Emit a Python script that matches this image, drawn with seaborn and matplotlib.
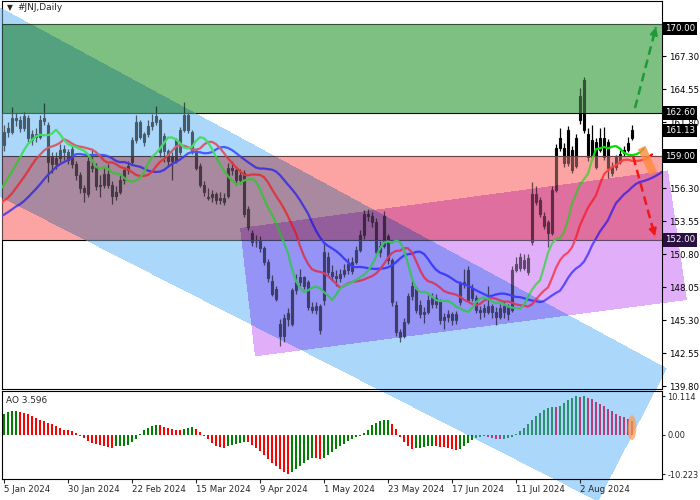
import numpy as np
import matplotlib
matplotlib.use("Agg")
import matplotlib.pyplot as plt
from matplotlib.path import Path
from matplotlib.patches import Ellipse
import matplotlib.transforms as mtransforms
import seaborn as sns

sns.set_style("white")
plt.rcParams['font.family'] = ['DejaVu Sans']

# ---------------- data ----------------
opens = [
    159.9, 161.0, 161.0, 162.2, 162.0, 161.3, 162.2, 160.3, 160.8, 160.6,
    161.9, 161.6, 158.9, 158.3, 158.8, 159.6, 159.3, 159.6, 158.3, 157.4,
    156.3, 155.8, 158.0, 158.2, 156.5, 156.6, 157.5, 156.6, 155.7, 156.0,
    157.0, 157.8, 158.5, 160.3, 161.8, 160.2, 160.8, 161.5, 161.8, 162.0,
    160.7, 159.4, 158.6, 158.6, 159.3, 161.2, 162.4, 161.0, 159.4, 158.2,
    156.6, 155.5, 155.6, 155.8, 155.3, 155.5, 155.7, 158.0, 157.8, 157.0,
    157.6, 154.6, 152.6, 151.8, 151.9, 151.3, 150.2, 148.6, 147.9, 145.0,
    144.0, 145.4, 145.0, 147.8, 148.5, 148.9, 148.5, 146.4, 146.2, 146.5,
    147.0, 150.6, 149.3, 149.0, 148.8, 149.2, 149.5, 149.4, 150.2, 151.2,
    152.4, 154.2, 154.0, 153.5, 151.0, 151.5, 152.3, 150.3, 146.6, 144.3,
    144.0, 145.2, 147.3, 148.0, 146.6, 145.8, 146.0, 146.7, 147.2, 146.9,
    145.3, 145.6, 145.8, 145.3, 146.8, 148.3, 149.5, 148.0, 147.2, 146.2,
    146.0, 146.0, 146.5, 146.0, 145.6, 146.0, 146.5, 146.2, 149.5, 150.6,
    149.7, 149.3, 151.8, 155.8, 155.3, 154.0, 153.5, 152.6, 156.2, 159.7,
    159.7, 158.4, 159.5, 158.2, 162.0, 165.3, 160.8, 158.9, 158.1, 159.5,
    160.5, 160.2, 158.2, 158.1, 158.5, 159.25, 159.5, 160.5]

highs = [
    161.6, 161.8, 163.1, 162.6, 162.3, 162.7, 162.4, 161.2, 161.3, 162.4,
    163.4, 161.8, 159.3, 159.3, 160.0, 159.9, 159.6, 159.9, 158.6, 157.7,
    156.6, 158.9, 159.6, 158.4, 157.4, 158.0, 158.3, 156.9, 156.5, 157.4,
    158.1, 158.6, 160.6, 162.4, 162.0, 161.0, 162.0, 162.5, 163.2, 162.2,
    160.9, 159.6, 159.3, 160.5, 161.4, 163.5, 162.6, 161.2, 159.6, 158.4,
    156.9, 156.3, 156.2, 156.0, 156.0, 155.9, 158.4, 158.6, 158.1, 157.9,
    157.8, 154.8, 152.8, 152.4, 152.3, 151.5, 150.4, 149.1, 148.2, 145.4,
    145.8, 146.3, 148.0, 149.2, 149.6, 149.0, 148.7, 146.8, 146.8, 146.7,
    151.8, 151.0, 149.9, 149.5, 149.6, 150.0, 150.5, 150.6, 151.5, 152.8,
    154.5, 154.6, 154.3, 153.8, 151.9, 154.4, 152.5, 150.5, 146.9, 144.6,
    145.5, 147.6, 148.6, 148.2, 147.0, 146.4, 147.4, 147.6, 147.5, 147.1,
    145.9, 146.2, 146.0, 146.1, 148.6, 149.6, 149.8, 148.3, 147.4, 146.5,
    146.7, 148.2, 146.7, 146.4, 146.7, 146.9, 146.7, 149.8, 150.6, 150.9,
    150.8, 150.8, 156.8, 156.5, 155.6, 154.3, 153.7, 156.5, 160.0, 161.3,
    160.1, 161.5, 159.8, 160.8, 164.7, 165.6, 161.3, 161.6, 160.5, 161.3,
    161.4, 160.4, 158.5, 159.1, 159.5, 159.8, 160.6, 161.6]

lows = [
    159.4, 160.6, 160.8, 161.5, 161.0, 161.1, 160.2, 159.9, 160.2, 160.4,
    161.6, 156.8, 157.6, 157.9, 158.5, 158.7, 158.3, 158.0, 157.0, 155.9,
    155.2, 155.6, 157.7, 156.2, 155.6, 156.3, 156.3, 155.0, 155.3, 155.8,
    156.7, 157.5, 158.3, 160.1, 160.4, 159.8, 160.6, 161.2, 161.6, 158.9,
    158.5, 158.2, 157.0, 158.4, 159.1, 161.0, 160.9, 159.2, 157.8, 156.4,
    155.7, 155.3, 155.2, 155.0, 155.0, 154.9, 155.5, 157.4, 156.6, 156.7,
    153.9, 152.8, 151.5, 151.4, 151.0, 149.9, 148.5, 147.3, 146.9, 143.2,
    143.5, 144.8, 144.8, 147.5, 148.2, 147.9, 146.2, 145.9, 145.8, 144.2,
    146.6, 148.9, 148.6, 148.2, 148.5, 148.9, 149.2, 149.2, 150.0, 151.0,
    152.1, 153.6, 153.1, 150.7, 150.6, 151.3, 150.0, 146.5, 144.0, 143.5,
    143.8, 145.0, 147.0, 145.9, 145.5, 145.1, 145.8, 146.3, 146.3, 145.0,
    144.6, 145.2, 144.9, 145.0, 146.6, 148.0, 146.8, 146.9, 145.9, 145.4,
    145.6, 145.8, 145.5, 144.9, 145.4, 145.5, 145.3, 146.0, 149.3, 149.4,
    149.5, 149.1, 151.6, 154.9, 153.9, 152.9, 151.4, 152.4, 156.0, 159.4,
    158.1, 158.2, 157.6, 158.0, 161.7, 160.9, 158.6, 158.7, 157.9, 159.3,
    158.7, 157.2, 157.3, 157.8, 158.3, 159.0, 159.3, 160.3]

closes = [
    161.0, 161.3, 162.2, 162.0, 161.3, 162.3, 160.5, 160.8, 160.6, 162.0,
    162.2, 158.5, 158.3, 158.8, 159.5, 159.3, 158.7, 158.3, 157.4, 156.3,
    156.0, 158.6, 158.2, 156.5, 156.6, 157.5, 156.6, 155.7, 156.0, 157.0,
    157.8, 158.2, 160.3, 161.8, 160.6, 160.8, 161.5, 161.8, 162.3, 159.3,
    159.4, 158.6, 159.0, 160.3, 161.2, 162.4, 161.2, 159.4, 158.0, 156.6,
    156.0, 155.6, 155.8, 155.3, 155.5, 155.2, 158.0, 157.8, 157.0, 157.4,
    154.2, 153.1, 151.8, 151.8, 151.3, 150.2, 148.8, 147.5, 147.1, 144.0,
    145.5, 145.9, 147.8, 148.5, 148.9, 148.2, 146.4, 146.2, 146.5, 144.5,
    151.0, 149.3, 149.0, 148.8, 149.2, 149.5, 150.0, 150.2, 151.2, 152.4,
    154.2, 154.0, 153.5, 151.0, 151.5, 154.0, 150.3, 146.8, 144.3, 143.9,
    145.2, 147.3, 148.2, 146.2, 145.8, 146.0, 147.0, 147.2, 146.7, 145.3,
    145.6, 145.8, 145.3, 145.8, 148.3, 148.5, 147.0, 147.2, 146.2, 146.0,
    146.3, 146.5, 146.0, 145.6, 146.3, 146.5, 145.8, 149.5, 150.0, 149.7,
    150.3, 150.5, 155.8, 155.2, 154.2, 153.2, 152.6, 156.2, 159.7, 160.5,
    158.4, 161.2, 157.8, 160.5, 164.0, 161.2, 158.9, 160.3, 160.2, 160.5,
    158.9, 158.0, 157.6, 158.9, 159.2, 159.5, 160.1, 161.13]

# median prices of the bars before the visible window (warm-up of the Alligator)
prior_medians = [152.0, 152.5, 153.0, 153.4, 153.2, 153.8, 154.5, 155.0, 155.3, 155.0,
                 154.4, 153.6, 153.8, 154.0, 153.8, 154.8, 154.3, 153.5, 153.2, 153.8,
                 153.8, 155.0, 156.3, 156.9, 157.3, 157.7, 157.2, 158.4, 159.4, 160.0]

ao_values = [
    5.4, 5.9, 6.2, 6.3, 6.0, 5.8, 5.6, 5.0, 4.4, 4.0,
    3.7, 3.2, 2.9, 2.4, 1.8, 1.4, 1.3, 1.1, 0.5, -0.3,
    -0.9, -1.5, -2.0, -2.4, -2.7, -2.9, -3.1, -3.3, -3.0, -2.95,
    -2.9, -2.5, -1.9, -1.0, 0.3, 1.2, 1.9, 2.3, 2.6, 2.5,
    2.2, 1.9, 1.6, 1.4, 1.3, 1.5, 1.8, 2.0, 1.6, 0.9,
    -0.2, -1.0, -2.0, -2.8, -3.2, -3.4, -3.0, -2.6, -2.3, -2.0,
    -1.8, -1.9, -2.6, -3.4, -4.3, -5.3, -6.3, -7.2, -8.1, -9.0,
    -9.7, -10.2, -9.8, -9.0, -8.2, -7.3, -6.5, -5.9, -6.0, -6.4,
    -6.0, -5.2, -4.4, -3.7, -3.0, -2.3, -1.6, -1.1, -0.6, -0.2,
    0.4, 1.4, 2.5, 3.2, 3.6, 3.9, 4.0, 2.8, 1.6, -0.4,
    -1.8, -2.9, -3.6, -3.5, -3.3, -3.1, -2.9, -2.8, -3.0, -3.1,
    -3.2, -3.4, -3.6, -3.8, -3.7, -3.0, -2.1, -1.3, -0.7, -0.4,
    -0.3, -0.5, -0.8, -1.0, -1.1, -1.0, -0.8, -0.4, 0.3, 1.0,
    1.9, 2.9, 4.0, 4.9, 5.8, 6.5, 7.0, 7.3, 7.2, 7.5,
    8.3, 9.2, 9.8, 10.1, 10.0, 10.114, 9.8, 9.3, 8.7, 8.1,
    7.5, 6.8, 6.2, 5.6, 5.0, 4.6, 4.2, 3.596]

date_labels = ["5 Jan 2024", "30 Jan 2024", "22 Feb 2024", "15 Mar 2024", "9 Apr 2024",
               "1 May 2024", "23 May 2024", "17 Jun 2024", "11 Jul 2024", "2 Aug 2024"]
date_label_bars = [0, 16, 32, 48, 64, 80, 96, 112, 128, 144]
price_ticks = [139.80, 142.55, 145.30, 148.05, 150.80, 153.55, 156.30,
               161.80, 164.55, 167.30]
ao_ticks = [-10.223, 0.0, 10.114]
ao_tick_labels = ["-10.223", "0.00", "10.114"]
level_prices = [170.00, 162.60, 159.00, 152.00]
last_price = 161.13

# analyst drawings (bar index, price)
green_zone = (162.60, 170.00)
red_zone = (152.00, 159.00)
blue_channel = [(-1.0, 171.4), (165.75, 141.3), (148.5, 130.2), (-1.0, 155.6)]
violet_channel = [(59.0, 153.0), (166.0, 157.8), (170.75, 147.0), (62.75, 142.3)]
green_arrow = [(157.75, 163.0), (163.0, 169.75)]
red_arrow = [(157.3, 158.95), (162.75, 152.3)]
orange_mark = [(159.4, 159.7), (162.3, 157.55)]
ao_mark = (157.0, 1.9)

# ---------------- layout ----------------
W, H = 700, 500
fig = plt.figure(figsize=(7, 5), dpi=100)


def box(x0, y0, x1, y1):
    return [x0 / W, 1 - y1 / H, (x1 - x0) / W, (y1 - y0) / H]


bg = fig.add_axes([0, 0, 1, 1], zorder=0)
ax = fig.add_axes(box(2, 1, 662, 389), zorder=1)
ax2 = fig.add_axes(box(2, 391, 662, 479), zorder=1)
n = len(closes)
for a in (ax, ax2):
    a.set_facecolor('none')
    a.set_xlim(-0.5, 164.5)
    for s in a.spines.values():
        s.set_color('black')
        s.set_linewidth(0.8)
ax.set_ylim(139.58, 171.92)
ax2.set_ylim(-11.5, 11.5)

# ---------------- overlay image (multiply blended) ----------------
yy, xx = np.mgrid[0:H, 0:W]
pts = np.column_stack([(xx + 0.5).ravel(), (H - yy - 0.5).ravel()])


def mask_for(poly):
    disp = ax.transData.transform(np.array(poly))
    return Path(disp).contains_points(pts).reshape(H, W)


x_lo, x_hi = ax.get_xlim()
layers = [
    ([(x_lo, green_zone[0]), (x_hi, green_zone[0]), (x_hi, green_zone[1]), (x_lo, green_zone[1])], '#7ec082'),
    ([(x_lo, red_zone[0]), (x_hi, red_zone[0]), (x_hi, red_zone[1]), (x_lo, red_zone[1])], '#fca3a3'),
    (blue_channel, '#aad7fa'),
    (violet_channel, '#e1affa'),
]
img = np.ones((H, W, 3))
for poly, col in layers:
    m = mask_for(poly)
    img[m] *= np.array(matplotlib.colors.to_rgb(col))
bg.imshow(img, extent=[0, W, 0, H], origin='upper', interpolation='nearest', aspect='auto')
bg.set_xlim(0, W)
bg.set_ylim(0, H)
bg.axis('off')

# ---------------- candles ----------------
idx = np.arange(n)
o = np.array(opens); h = np.array(highs); l = np.array(lows); c = np.array(closes)
ax.vlines(idx, l, h, color='black', lw=0.9, zorder=2.5)
bull = c >= o
body_h = np.maximum(np.abs(c - o), 0.06)
ax.bar(idx[bull], body_h[bull], bottom=np.minimum(o, c)[bull], width=0.72,
       facecolor='none', edgecolor='black', lw=0.8, zorder=2.6)
ax.bar(idx[~bull], body_h[~bull], bottom=np.minimum(o, c)[~bull], width=0.72,
       facecolor='black', edgecolor='black', lw=0.8, zorder=2.6)

for p in level_prices:
    ax.axhline(p, color='black', lw=0.8, zorder=2.2)

# ---------------- Alligator ----------------
med_all = np.concatenate([np.array(prior_medians), (h + l) / 2])
P = len(prior_medians)


def smma(x, k):
    out = np.full(len(x), np.nan)
    out[k - 1] = x[:k].mean()
    for t in range(k, len(x)):
        out[t] = (out[t - 1] * (k - 1) + x[t]) / k
    return out


for k, shift, col in [(13, 8, '#0000ff'), (8, 5, '#ff0000'), (5, 3, '#00e000')]:
    s = smma(med_all, k)
    xs = np.arange(len(med_all)) - P + shift
    keep = (xs >= -1) & ~np.isnan(s)
    sns.lineplot(x=xs[keep], y=s[keep], ax=ax, color=col, lw=1.6, zorder=3, sort=False)

# tint of the drawings over the candles and lines
bb = ax.get_window_extent()
c0, c1 = int(round(bb.x0)), int(round(bb.x1))
r0, r1 = H - int(round(bb.y1)), H - int(round(bb.y0))
crop = img[r0:r1, c0:c1]
alpha = np.where((crop < 0.999).any(axis=2), 0.42, 0.0)
tint = np.dstack([crop, alpha])
xl, yl = ax.get_xlim(), ax.get_ylim()
ax.imshow(tint, extent=[xl[0], xl[1], yl[0], yl[1]], origin='upper',
          aspect='auto', interpolation='nearest', zorder=4)
ax.set_xlim(xl)
ax.set_ylim(yl)

# arrows and marks
ax.plot(*zip(*orange_mark), color='#ff8a3d', lw=6, alpha=0.8, solid_capstyle='butt', zorder=5)
for (st, en), col in [(green_arrow, '#1f9a38'), (red_arrow, '#f01818')]:
    ax.plot([st[0], en[0]], [st[1], en[1]], color=col, lw=1.8, ls=(0, (3.5, 2)), zorder=6)
    frac = 0.86
    mid = (st[0] + (en[0] - st[0]) * frac, st[1] + (en[1] - st[1]) * frac)
    ax.annotate('', xy=en, xytext=mid,
                arrowprops=dict(arrowstyle='-|>', color=col, lw=1.5, mutation_scale=11,
                                shrinkA=0, shrinkB=0), zorder=6)

# ---------------- price axis ----------------
ax.yaxis.tick_right()
ax.set_yticks(price_ticks)
ax.set_yticklabels([f"{v:.2f}" for v in price_ticks])
ax.tick_params(axis='y', right=True, left=False, labelright=True, labelleft=False,
               length=3, width=0.8, pad=2, labelsize=6.2, colors='black', direction='out')
ax.tick_params(axis='x', bottom=False, labelbottom=False)
ax.set_xlabel('')
ax.set_ylabel('')

trans = mtransforms.blended_transform_factory(ax.transAxes, ax.transData)
box_colors = {170.00: 'black', 162.60: 'black', 159.00: 'black', 152.00: '#2a1040'}
for p in level_prices:
    ax.text(1.0045, p, f"{p:.2f}", transform=trans, ha='left',
            va='top' if p == 170.00 else 'center', color='white', fontsize=6.2, zorder=10,
            bbox=dict(facecolor=box_colors[p], edgecolor='none', pad=1.6))
ax.text(1.0045, last_price, f"{last_price:.2f}", transform=trans, ha='left', va='center',
        color='white', fontsize=6.2, zorder=10,
        bbox=dict(facecolor='black', edgecolor='none', pad=1.6))

# ---------------- AO panel ----------------
ao = np.array(ao_values)
rising = np.concatenate([[True], ao[1:] > ao[:-1]])
blue_disp = Path(ax.transData.transform(np.array(blue_channel)))
mids = ax2.transData.transform(np.column_stack([idx, ao / 2]))
inside = blue_disp.contains_points(mids)
cols = []
for r, ins in zip(rising, inside):
    if ins:
        cols.append('#2f8f72' if r else '#b0407c')
    else:
        cols.append('#008000' if r else '#ff0000')
ax2.bar(idx, ao, width=0.72, color=cols, edgecolor='none', linewidth=0, zorder=2)
ax2.add_patch(Ellipse(ao_mark, width=2.2, height=6.5, facecolor='#ff9a50',
                      edgecolor='none', alpha=0.7, zorder=3))
ax2.yaxis.tick_right()
ax2.set_yticks(ao_ticks)
ax2.set_yticklabels(ao_tick_labels)
ax2.tick_params(axis='y', right=True, left=False, labelright=True, labelleft=False,
                length=2.5, width=0.8, pad=1.2, labelsize=5.9, direction='out')
ax2.set_xticks(date_label_bars)
ax2.set_xticklabels(date_labels)
ax2.tick_params(axis='x', bottom=True, length=3, width=0.8, pad=1.5, labelsize=6.2,
                direction='out')
for lbl in ax2.get_xticklabels():
    lbl.set_ha('left')
ax2.text(0.006, 0.895, f"AO {ao_values[-1]:.3f}", transform=ax2.transAxes,
         fontsize=6.4, va='center', ha='left')

# title
fig.text(7 / W, 1 - 8 / H, "\u25BC", fontsize=5.5, va='center', ha='left')
fig.text(17 / W, 1 - 8 / H, "#JNJ,Daily", fontsize=6.5, va='center', ha='left')

fig.savefig('out.png', dpi=100)
